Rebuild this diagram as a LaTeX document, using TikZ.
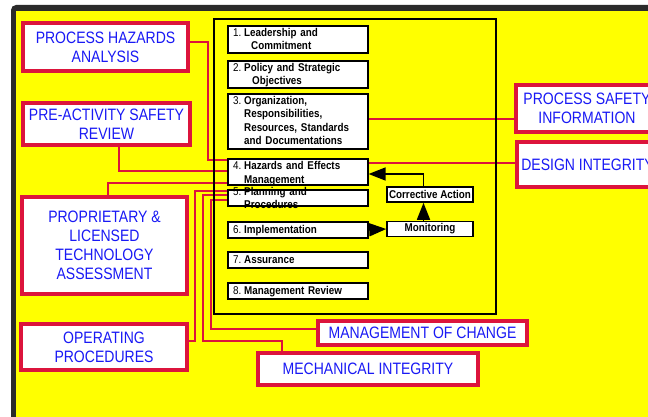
\documentclass[tikz,border=0pt]{standalone}
\usepackage{fontspec}
\setmainfont{Liberation Sans}
\newfontfamily\stepfont{Liberation Sans}[FakeStretch=0.87]
\newfontfamily\psmfont{Liberation Sans}[FakeStretch=0.85]
\usetikzlibrary{arrows.meta}
\definecolor{psmyellow}{RGB}{255,255,0}
\definecolor{psmred}{RGB}{220,20,60}
\definecolor{psmblue}{RGB}{25,25,245}
\definecolor{framegray}{RGB}{43,43,43}
\newcommand{\stepno}[1]{\makebox[11pt][l]{\mdseries #1}}
\begin{document}
\begin{tikzpicture}[x=1pt,y=-1pt,
    stepbox/.style={draw,fill=white,line width=1.6pt,minimum width=140pt,inner sep=0pt,anchor=north west},
    steptext/.style={font=\stepfont\bfseries\fontsize{11.3}{13.5}\selectfont,text width=132pt,align=left,inner sep=0pt,anchor=base west},
    psmbox/.style={draw=psmred,fill=white,line width=3.5pt,inner sep=0pt,text=psmblue,align=center,font=\psmfont\fontsize{16.5}{19}\selectfont},
    psmline/.style={draw=psmred,line width=1.5pt},
    ctrlbox/.style={draw,fill=white,line width=1.6pt,minimum width=86pt,minimum height=15pt,inner sep=0pt,font=\stepfont\bfseries\fontsize{11.3}{13}\selectfont},
    ctrlarrow/.style={line width=1.6pt,-{Triangle[length=17pt,width=13pt]}}]
        %% Page
        \useasboundingbox (0,0) rectangle (648,417);
        \clip (0,0) rectangle (648,417);
        \fill[white] (0,0) rectangle (648,417);
        \fill[framegray,rounded corners=5pt] (11,5) rectangle (660,430);
        \fill[psmyellow] (16,11) rectangle (660,430);
        %% Process safety elements
        \node[psmbox,minimum width=165pt,minimum height=48pt] (pha) at (105.5,47) {PROCESS HAZARDS\\ANALYSIS};
        \node[psmbox,minimum width=167pt,minimum height=42pt] (pre) at (106.5,124) {PRE-ACTIVITY SAFETY\\REVIEW};
        \node[psmbox,minimum width=165pt,minimum height=97pt] (prop) at (104.5,245.5) {PROPRIETARY \&\\LICENSED\\TECHNOLOGY\\ASSESSMENT};
        \node[psmbox,minimum width=166pt,minimum height=46pt] (op) at (104,347) {OPERATING\\PROCEDURES};
        \node[psmbox,minimum width=209pt,minimum height=24pt] (moc) at (422.5,333) {MANAGEMENT OF CHANGE};
        \node[psmbox,minimum width=220pt,minimum height=32pt] (mech) at (368,369) {MECHANICAL INTEGRITY};
        \node[psmbox,minimum width=142pt,minimum height=47pt] (psi) at (587,108.5) {PROCESS SAFETY\\INFORMATION};
        \node[psmbox,minimum width=141pt,minimum height=45pt] (di) at (587.5,164.5) {DESIGN INTEGRITY};
        %% Links
        \draw[psmline] (pha.east |- 0,42) -| (208,160) -- (227,160);
        \draw[psmline] (pre.south -| 119,0) |- (227,171);
        \draw[psmline] (prop.north -| 108,0) |- (227,183);
        \draw[psmline] (op.east |- 0,341) -| (195,191) -- (227,191);
        \draw[psmline] (mech.north -| 282,0) |- (203,341) |- (227,195);
        \draw[psmline] (moc.west |- 0,329) -| (211,200) -- (227,200);
        \draw[psmline] (367,119) -- (psi.west |- 0,119);
        \draw[psmline] (367,163) -- (di.west |- 0,163);
        %% HSE-MS frame
        \draw[line width=1.5pt] (214,19) rectangle (496,314);
        \node[stepbox,minimum height=27pt] (s1) at (227,25) {};
        \node[stepbox,minimum height=27pt] (s2) at (227,60) {};
        \node[stepbox,minimum height=55pt] (s3) at (227,93) {};
        \node[stepbox,minimum height=26pt] (s4) at (227,158) {};
        \node[stepbox,minimum height=16pt] (s5) at (227,189) {};
        \node[stepbox,minimum height=16pt] (s6) at (227,221) {};
        \node[stepbox,minimum height=16pt] (s7) at (227,251) {};
        \node[stepbox,minimum height=16pt] (s8) at (227,282) {};
        \node[steptext] (t1) at (233,36.5) {\stepno{1.}Leadership and\\\hspace*{18pt}Commitment};
        \node[steptext] (t2) at (233,71.5) {\stepno{2.}Policy and Strategic\\\hspace*{19pt}Objectives};
        \node[steptext] (t3) at (233,104.5) {\stepno{3.}Organization,\\\hspace*{11pt}Responsibilities,\\\hspace*{11pt}Resources, Standards\\\hspace*{11pt}and Documentations};
        \node[steptext] (t4) at (233,169.5) {\stepno{4.}Hazards and Effects\\\hspace*{11pt}Management};
        \node[steptext] (t5) at (233,195) {\stepno{5.}Planning and\\\hspace*{11pt}Procedures};
        \node[steptext] (t6) at (233,233.5) {\stepno{6.}Implementation};
        \node[steptext] (t7) at (233,263.5) {\stepno{7.}Assurance};
        \node[steptext] (t8) at (233,294.5) {\stepno{8.}Management Review};
        %% Feedback loop
        \node[ctrlbox] (corr) at (430,194.5) {Corrective Action};
        \node[ctrlbox] (mon) at (430,229) {Monitoring};
        \draw[ctrlarrow] (mon.north -| 423.5,0) -- (corr.south -| 423.5,0);
        \draw[ctrlarrow] (corr.north -| 423.5,0) |- (s4.east |- 0,174);
        \draw[ctrlarrow] (s6.east) -- (mon.west);
\end{tikzpicture}
\end{document}
